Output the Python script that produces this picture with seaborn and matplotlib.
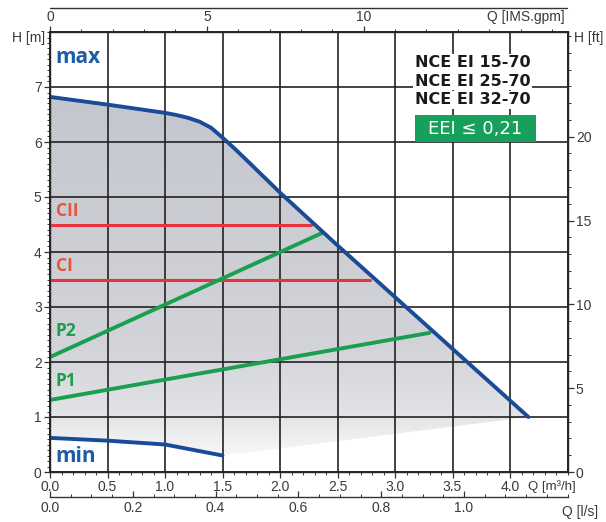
import numpy as np
import pandas as pd
import matplotlib.pyplot as plt
import seaborn as sns
from matplotlib.patches import Polygon, Rectangle
from matplotlib.colors import LinearSegmentedColormap
from matplotlib.ticker import MultipleLocator, FormatStrFormatter

# curve data, Q in m3/h, H in m
max_q = [0.0, 0.5, 1.0, 1.1, 1.2, 1.3, 1.4, 1.5, 1.6, 1.7, 2.0, 2.5, 3.0, 3.5, 4.16]
max_h = [6.82, 6.68, 6.53, 6.49, 6.44, 6.37, 6.26, 6.08, 5.89, 5.69, 5.08, 4.12, 3.18, 2.24, 1.0]
min_q = [0.0, 0.5, 1.0, 1.5]
min_h = [0.62, 0.57, 0.5, 0.3]
cii_q = [0.0, 2.27]
cii_h = [4.5, 4.5]
ci_q = [0.0, 2.78]
ci_h = [3.5, 3.5]
p2_q = [0.0, 2.37]
p2_h = [2.09, 4.35]
p1_q = [0.0, 3.30]
p1_h = [1.31, 2.53]
models = ["NCE EI 15-70", "NCE EI 25-70", "NCE EI 32-70"]
eei_label = "EEI \u2264 0,21"

M3H_TO_GPM = 3.6662
M_TO_FT = 3.28084

sns.set_theme(style="white")
plt.rcParams['font.family'] = ['Liberation Sans', 'DejaVu Sans']

blue = '#1b4b98'
red = '#e8323c'
green = '#19a04e'
tick_col = '#3a3a3a'

fig = plt.figure(figsize=(6.06, 5.22), dpi=100)
ax = fig.add_axes([50 / 606, 50 / 522, 517.5 / 606, 440 / 522])
ax.set_xlim(0, 4.5)
ax.set_ylim(0, 8)

# gradient shaded operating field
verts = list(zip(max_q, max_h)) + list(zip(min_q[::-1], min_h[::-1]))
field = Polygon(verts, closed=True, facecolor='none', edgecolor='none')
ax.add_patch(field)
grad = np.linspace(0, 1, 256).reshape(-1, 1)
cmap = LinearSegmentedColormap.from_list(
    'fld', [(0.0, '#f8f8f9'), (0.12, '#e2e3e6'), (0.3, '#d3d4d9'), (1.0, '#c4c6ce')])
img = ax.imshow(grad, cmap=cmap, origin='lower', extent=[0, 4.5, 0.25, 6.9],
                aspect='auto', zorder=1)
img.set_clip_path(field)

# grid
for q in np.arange(0.5, 4.5, 0.5):
    ax.axvline(q, color='#222222', lw=1.2, zorder=2)
for h in range(1, 8):
    ax.axhline(h, color='#222222', lw=1.2, zorder=2)

# curves
lines = pd.DataFrame({
    'q': cii_q + ci_q + p2_q + p1_q,
    'h': cii_h + ci_h + p2_h + p1_h,
    'mode': ['CII'] * 2 + ['CI'] * 2 + ['P2'] * 2 + ['P1'] * 2,
})
sns.lineplot(data=lines[lines['mode'].isin(['CII', 'CI'])], x='q', y='h', units='mode',
             estimator=None, color=red, lw=2.2, ax=ax, zorder=3)
sns.lineplot(data=lines[lines['mode'].isin(['P2', 'P1'])], x='q', y='h', units='mode',
             estimator=None, color=green, lw=2.8, ax=ax, zorder=3)
sns.lineplot(x=max_q, y=max_h, color=blue, lw=2.8, ax=ax, zorder=4)
sns.lineplot(x=min_q, y=min_h, color=blue, lw=2.8, ax=ax, zorder=4)
ax.set_xlabel('')
ax.set_ylabel('')

# curve labels
lab_font = ['Open Sans', 'DejaVu Sans']
ax.text(0.05, 7.53, 'max', color='#1f5ca8', fontsize=15, fontweight='bold', va='center',
        family=lab_font, zorder=5)
ax.text(0.05, 0.28, 'min', color='#1f5ca8', fontsize=15, fontweight='bold', va='center',
        family=lab_font, zorder=5)
ax.text(0.05, 4.74, 'CII', color='#e5553b', fontsize=12.5, fontweight='bold', va='center',
        family=lab_font, zorder=5)
ax.text(0.05, 3.74, 'CI', color='#e5553b', fontsize=12.5, fontweight='bold', va='center',
        family=lab_font, zorder=5)
ax.text(0.05, 2.56, 'P2', color=green, fontsize=12.5, fontweight='bold', va='center',
        family=lab_font, zorder=5)
ax.text(0.05, 1.65, 'P1', color=green, fontsize=12.5, fontweight='bold', va='center',
        family=lab_font, zorder=5)

for i, m in enumerate(models):
    ax.text(3.17, 7.44 - i * 0.335, m, fontsize=11.5, fontweight='bold', color='#1a1a1a',
            va='center', ha='left', zorder=5, family=['DejaVu Sans'],
            bbox=dict(facecolor='white', edgecolor='none', pad=1.0))
ax.add_patch(Rectangle((3.17, 6.0), 1.06, 0.49, facecolor='#17a05c', edgecolor='none', zorder=5))
ax.text(3.70, 6.245, eei_label, fontsize=13, color='white', va='center', ha='center', zorder=6,
        family=['DejaVu Sans'])

# main axes ticks
ax.set_xticks(np.arange(0, 4.01, 0.5))
ax.xaxis.set_minor_locator(MultipleLocator(0.1))
ax.xaxis.set_major_formatter(FormatStrFormatter('%.1f'))
ax.set_yticks(range(0, 8))
ax.yaxis.set_minor_locator(MultipleLocator(0.1))
ax.tick_params(axis='both', which='major', direction='out', length=4, width=0.9,
               labelsize=10, labelcolor=tick_col, color='#333333', pad=2,
               bottom=True, left=True)
ax.tick_params(axis='both', which='minor', direction='out', length=2.5, width=0.7,
               color='#333333', bottom=True, left=True)
for s in ax.spines.values():
    s.set_color('#222222')
    s.set_linewidth(1.0)

# right axis in ft
axr = ax.twinx()
axr.set_ylim(0, 8 * M_TO_FT)
axr.set_yticks([0, 5, 10, 15, 20])
axr.yaxis.set_minor_locator(MultipleLocator(1))
axr.tick_params(axis='y', which='major', direction='out', length=4, width=0.9,
                labelsize=10, labelcolor=tick_col, color='#333333', pad=2, right=True)
axr.tick_params(axis='y', which='minor', direction='out', length=2.5, width=0.7,
                color='#333333', right=True)
axr.grid(False)

# top axis in gpm
axt = ax.twiny()
axt.set_xlim(0, 4.5 * M3H_TO_GPM)
axt.set_xticks([0, 5, 10])
axt.xaxis.set_minor_locator(MultipleLocator(1))
axt.tick_params(axis='x', which='major', direction='out', length=4, width=0.9,
                labelsize=10, labelcolor=tick_col, color='#333333', pad=2, top=True)
axt.tick_params(axis='x', which='minor', direction='out', length=2.5, width=0.7,
                color='#333333', top=True)
axt.grid(False)

# lower axis in l/s
axs = ax.secondary_xaxis(-25 / 440, functions=(lambda q: q / 3.6, lambda l: l * 3.6))
axs.set_xticks(np.arange(0, 1.01, 0.2))
axs.xaxis.set_minor_locator(MultipleLocator(0.05))
axs.xaxis.set_major_formatter(FormatStrFormatter('%.1f'))
axs.tick_params(axis='x', which='major', direction='in', length=4, width=0.9,
                labelsize=10, labelcolor=tick_col, color='#333333', pad=3)
axs.tick_params(axis='x', which='minor', direction='in', length=2.5, width=0.7, color='#333333')
axs.spines['bottom'].set_color('#333333')
axs.spines['bottom'].set_linewidth(1.0)

# axis titles
fig.text(45 / 606, 1 - 38 / 522, 'H [m]', ha='right', va='center', fontsize=10, color=tick_col)
fig.text(574 / 606, 1 - 38 / 522, 'H [ft]', ha='left', va='center', fontsize=10, color=tick_col)
fig.text(565 / 606, 1 - 17 / 522, 'Q [IMS.gpm]', ha='right', va='center', fontsize=10, color=tick_col)
fig.text(528 / 606, 1 - 487 / 522, 'Q [m\u00b3/h]', ha='left', va='center', fontsize=9.5, color=tick_col)
fig.text(562 / 606, 1 - 512 / 522, 'Q [l/s]', ha='left', va='center', fontsize=10, color=tick_col)
fig.add_artist(plt.Line2D([50 / 606, 567 / 606], [1 - 8 / 522, 1 - 8 / 522],
                          color='#333333', lw=1.0))

fig.savefig('out.png', dpi=100)
